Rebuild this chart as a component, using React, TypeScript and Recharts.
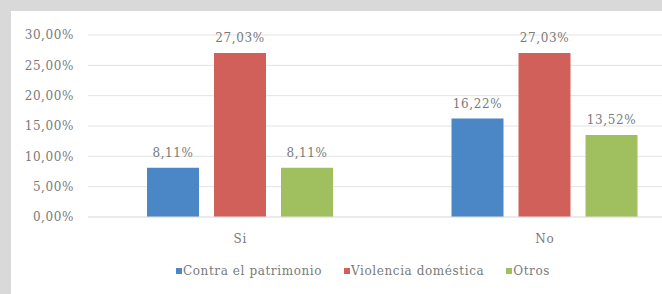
import React from 'react';
import { BarChart, Bar, XAxis, YAxis, CartesianGrid, Legend, LabelList } from 'recharts';

const categories = ['Si', 'No'];
const contraPatrimonio = [8.11, 16.22];
const violenciaDomestica = [27.03, 27.03];
const otros = [8.11, 13.52];
const yTicks = [0, 5, 10, 15, 20, 25, 30];

const seriesNames = ['Contra el patrimonio', 'Violencia doméstica', 'Otros'];
const colors = ['#4b87c7', '#d2605a', '#a0bf5e'];

const data = categories.map((c, i) => ({
  cat: c,
  a: contraPatrimonio[i],
  b: violenciaDomestica[i],
  c: otros[i],
}));

const FONT = '"DejaVu Serif", serif';
const TEXT = '#7a7a7a';
const fmt = (v: number) => v.toFixed(2).replace('.', ',') + '%';
const textStyle = { fill: TEXT, fontSize: 12, fontFamily: FONT, letterSpacing: 0.6 };

const LegendContent = () => (
  <div style={{ display: 'flex', alignItems: 'center', paddingLeft: 176, height: 18, fontFamily: FONT, fontSize: 12, letterSpacing: 0.6, color: TEXT }}>
    {seriesNames.map((n, i) => (
      <div key={n} style={{ display: 'flex', alignItems: 'center', marginRight: i < 2 ? 22 : 0 }}>
        <span style={{ width: 6, height: 6, background: colors[i], display: 'inline-block', marginRight: 1 }} />
        <span>{n}</span>
      </div>
    ))}
  </div>
);

export default function App() {
  return (
    <div style={{ position: 'absolute', left: 0, top: 0, width: 662, height: 294, background: '#d9d9d9', overflow: 'hidden' }}>
      <div style={{ position: 'absolute', left: 11, top: 11, width: 700, height: 300, background: '#ffffff' }} />
      <div style={{ position: 'absolute', left: 0, top: 0 }}>
        <BarChart
          width={720}
          height={294}
          data={data}
          margin={{ top: 35, right: 23, left: 0, bottom: 29 }}
          barSize={52}
          barGap={15}
        >
          <CartesianGrid vertical={false} stroke="#e3e3e3" />
          <XAxis
            dataKey="cat"
            axisLine={{ stroke: '#e3e3e3' }}
            tickLine={false}
            tickMargin={11}
            tick={textStyle}
          />
          <YAxis
            width={88}
            domain={[0, 30]}
            ticks={yTicks}
            tickFormatter={fmt}
            axisLine={false}
            tickLine={false}
            tickMargin={8}
            tick={textStyle}
          />
          <Legend
            content={<LegendContent />}
            wrapperStyle={{ position: 'absolute', left: 0, top: 262, width: 662, height: 18 }}
          />
          <Bar dataKey="a" name={seriesNames[0]} fill={colors[0]} isAnimationActive={false}>
            <LabelList dataKey="a" position="top" offset={11} formatter={fmt} style={textStyle} />
          </Bar>
          <Bar dataKey="b" name={seriesNames[1]} fill={colors[1]} isAnimationActive={false}>
            <LabelList dataKey="b" position="top" offset={11} formatter={fmt} style={textStyle} />
          </Bar>
          <Bar dataKey="c" name={seriesNames[2]} fill={colors[2]} isAnimationActive={false}>
            <LabelList dataKey="c" position="top" offset={11} formatter={fmt} style={textStyle} />
          </Bar>
        </BarChart>
      </div>
    </div>
  );
}
